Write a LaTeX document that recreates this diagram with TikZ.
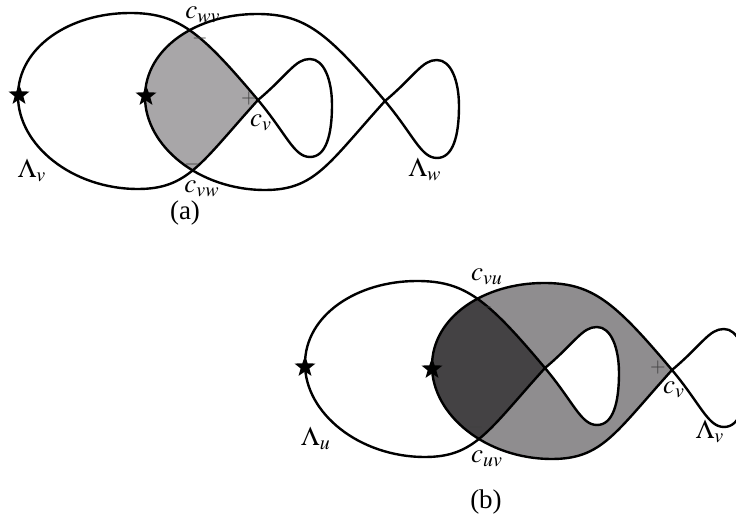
\documentclass[tikz,border=0pt]{standalone}
\usepackage{mathptmx}
\usepackage{fontspec}
\setmainfont{Liberation Serif}
\usetikzlibrary{shapes.geometric}
\definecolor{lightshade}{HTML}{A8A6A8}
\definecolor{midshade}{HTML}{8F8D8F}
\definecolor{darkshade}{HTML}{444244}
% one front: big lobe and small lobe, double point at the origin
\newcommand{\biglobe}{(0,0) .. controls (-58,69) and (-80,87) .. (-128,87)
  .. controls (-188,87) and (-240,53) .. (-240,4)
  .. controls (-240,-45) and (-186,-89) .. (-120,-89)
  .. controls (-70,-89) and (-57,-63) .. (0,0)}
\newcommand{\smalllobe}{(0,0) .. controls (30.6,25.7) and (37,41) .. (52,41)
  .. controls (66,41) and (74,20) .. (74,-5)
  .. controls (74,-35) and (68,-57) .. (52,-57)
  .. controls (36,-57) and (28.9,-34.5) .. (0,0)}
\tikzset{
	legendrian/.style={
			line width=1.2pt,
			line join=round
		},
	basepoint/.style={
			star,
			star points=5,
			star point ratio=2.4,
			fill=black,
			draw=none,
			minimum size=11pt,
			inner sep=0pt
		},
	signmark/.style={
			text=black!75,
			font=\normalsize,
			text height=0.5em,
			text depth=0pt,
			inner sep=0pt
		},
	chordlabel/.style={
			font=\fontsize{13.5}{16}\selectfont,
			inner sep=0pt
		}
}

\begin{document}
\begin{tikzpicture}[x=0.5pt, y=0.5pt]
\useasboundingbox (0,0) rectangle (736,-523);
\clip (0,0) rectangle (736,-523);

% (a)
\coordinate (Ov) at (258,-100);
\coordinate (Ow) at (385,-101);

\begin{scope}
	\clip[shift={(Ov)}] \biglobe;
	\fill[lightshade, shift={(Ow)}] \biglobe;
\end{scope}
\draw[legendrian, shift={(Ov)}] \biglobe \smalllobe;
\draw[legendrian, shift={(Ow)}] \biglobe \smalllobe;

\node[basepoint] (starV) at (19,-95) {};
\node[basepoint] (starW) at (146,-96) {};

\node[chordlabel] (cWV) at (203,-15) {$c_{wv}$};
\node[signmark] (mWV) at (200,-39) {$-$};
\node[signmark] (pV) at (249,-99) {$+$};
\node[chordlabel] (cV) at (261,-123) {$c_v$};
\node[chordlabel] (cVW) at (202,-189) {$c_{vw}$};
\node[signmark] (mVW) at (192,-165) {$-$};
\node[chordlabel] (lamV) at (32,-170) {$\Lambda_v$};
\node[chordlabel] (lamW) at (425,-169) {$\Lambda_w$};
\node[chordlabel] (capA) at (185,-213) {(a)};

% (b)
\coordinate (Ou) at (545,-368);
\coordinate (Ov2) at (672,-370);

\fill[midshade, shift={(Ov2)}] \biglobe;
\fill[white, shift={(Ou)}] \smalllobe;
\begin{scope}
	\clip[shift={(Ov2)}] \biglobe;
	\fill[darkshade, shift={(Ou)}] \biglobe;
\end{scope}
\draw[legendrian, shift={(Ou)}] \biglobe \smalllobe;
\draw[legendrian, shift={(Ov2)}] \biglobe \smalllobe;

\node[basepoint] (starU) at (305,-367) {};
\node[basepoint] (starV2) at (432,-369) {};

\node[chordlabel] (cVU) at (487,-277) {$c_{vu}$};
\node[signmark] (mVU) at (485,-308) {$-$};
\node[chordlabel] (cUV) at (487,-459) {$c_{uv}$};
\node[signmark] (mUV) at (476,-428) {$-$};
\node[signmark] (pV2) at (658,-368) {$+$};
\node[chordlabel] (cV2) at (674,-390) {$c_v$};
\node[chordlabel] (lamU) at (316,-438) {$\Lambda_u$};
\node[chordlabel] (lamV2) at (710,-431) {$\Lambda_v$};
\node[chordlabel] (capB) at (486,-502) {(b)};

\end{tikzpicture}
\end{document}
